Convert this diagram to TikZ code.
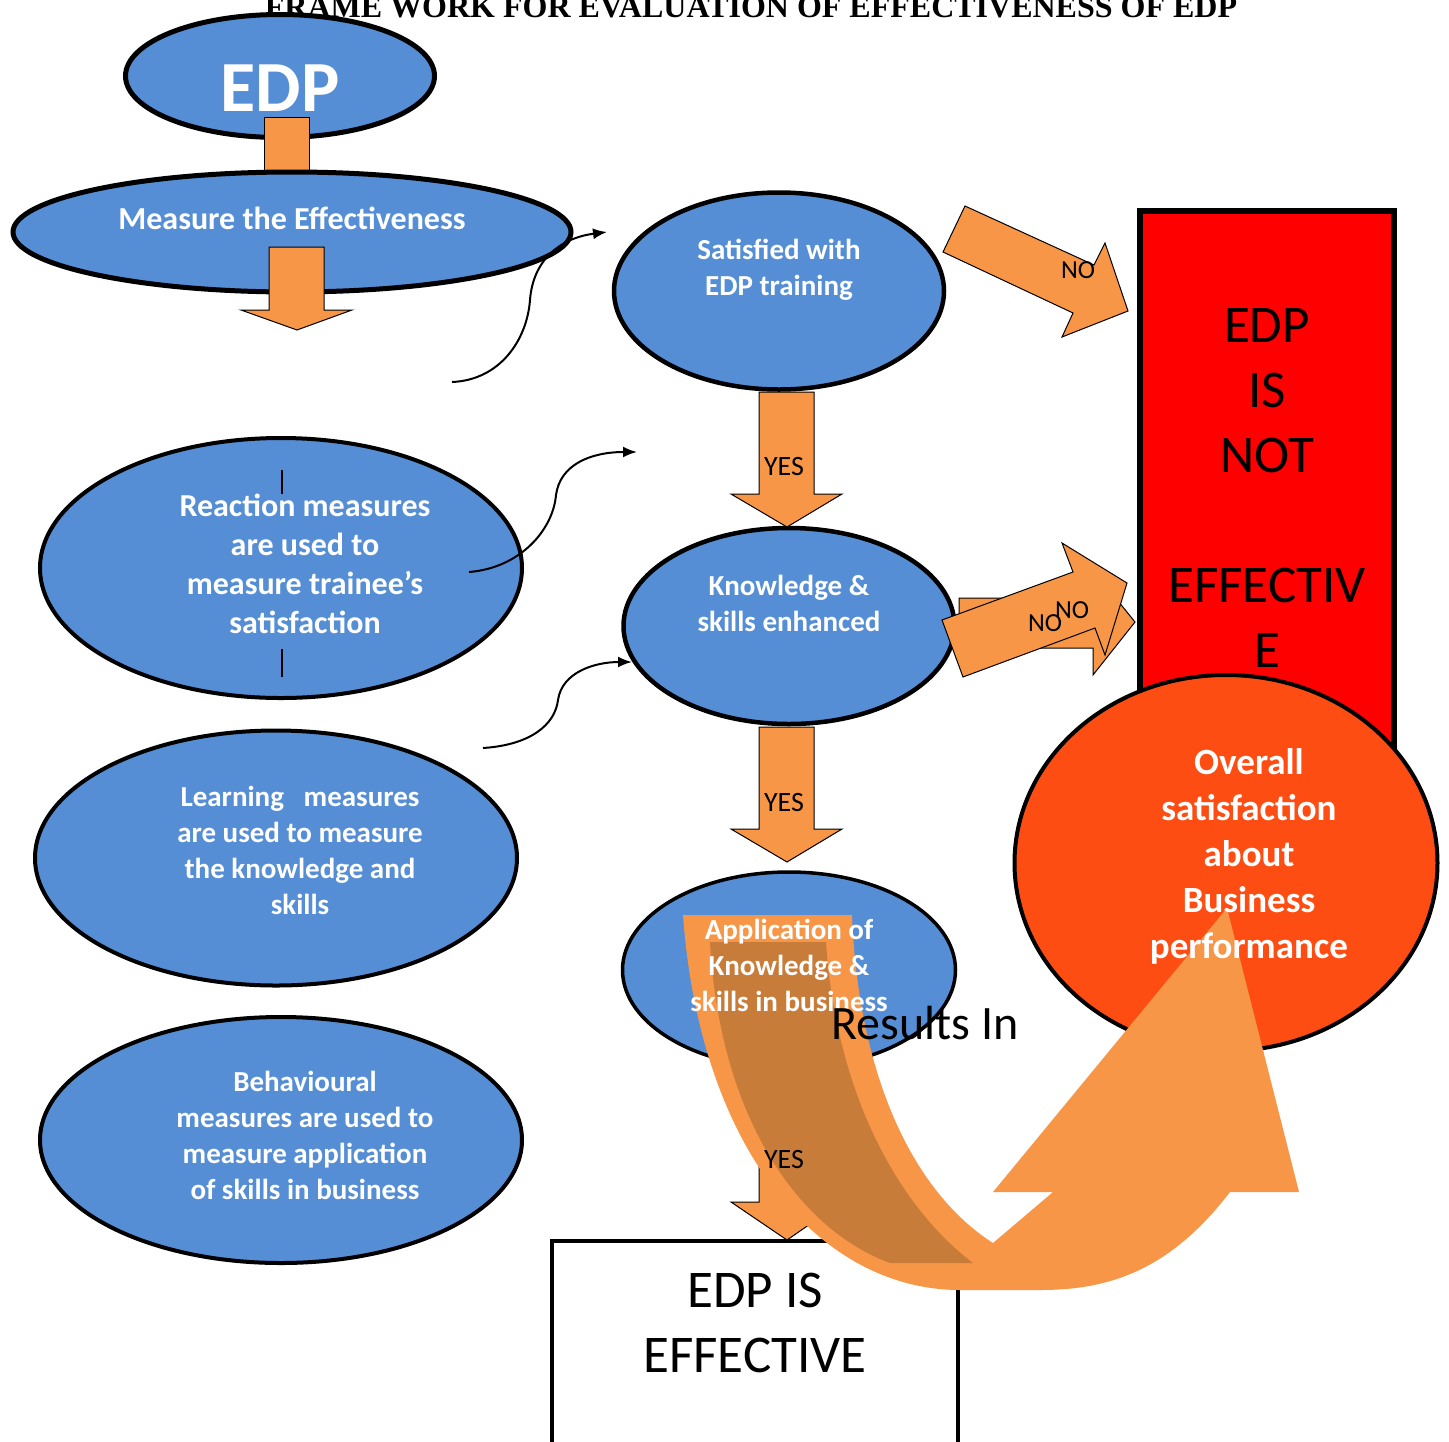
\documentclass[tikz,border=0pt]{standalone}
\usepackage{fontspec}
\setmainfont{Carlito}
\newfontfamily\titlefont{Liberation Serif}
\usetikzlibrary{shapes.geometric,arrows.meta}
\definecolor{eblue}{RGB}{85,142,213}
\definecolor{eorange}{RGB}{247,150,70}
\definecolor{edark}{RGB}{200,124,58}
\definecolor{ered}{RGB}{255,0,0}
\definecolor{ecircle}{RGB}{254,77,19}
\begin{document}
\begin{tikzpicture}[x=1pt,y=-1pt,
  oval/.style={ellipse, draw=black, fill=eblue, inner sep=0pt},
  barrow/.style={fill=eorange, draw=black, line width=1pt, line join=miter},
  wtext/.style={text=white, align=center, inner sep=0pt, font=\bfseries},
  btext/.style={text=black, align=center, inner sep=0pt},
  curvy/.style={line width=2pt, -{Latex[length=14pt,width=11pt]}},
  fs/.style 2 args={font=\fontsize{#1}{#2}\selectfont},
  bfs/.style 2 args={font=\bfseries\fontsize{#1}{#2}\selectfont},
]
\useasboundingbox (0,0) rectangle (1449,1441);
\begin{scope}
\clip (0,0) rectangle (1449,1441);

% title
\node[anchor=base, inner sep=0pt, font=\titlefont\bfseries\fontsize{32}{32}\selectfont] (title) at (751,17) {FRAME WORK FOR EVALUATION OF EFFECTIVENESS OF EDP};

% EDP ellipse
\node[oval, line width=5pt, minimum width=309pt, minimum height=123pt] (edp) at (280,76) {};
\path[barrow] (264,117) rectangle (309,176);
\node[oval, line width=5pt, minimum width=558pt, minimum height=120pt] (measure) at (292,232) {};
\path[barrow] (269,247) -- (324,247) -- (324,310) -- (352,310) -- (297,330) -- (241,310) -- (269,310) -- cycle;

% left ellipses
\node[oval, line width=4pt, minimum width=482pt, minimum height=260pt] (react) at (281,568) {};
\node[oval, line width=4pt, minimum width=482pt, minimum height=255pt] (learn) at (276,858) {};
\node[oval, line width=4pt, minimum width=482pt, minimum height=246pt] (behav) at (281,1140) {};
\coordinate (v1a) at (282,470); \coordinate (v1b) at (282,494);
\coordinate (v2a) at (282,649); \coordinate (v2b) at (282,677);
\draw[line width=2pt] (v1a) -- (v1b);
\draw[line width=2pt] (v2a) -- (v2b);

% middle ellipses
\node[oval, line width=4.5pt, minimum width=330pt, minimum height=197pt] (sat) at (779,291) {};
\node[oval, line width=4.5pt, minimum width=331pt, minimum height=196pt] (know) at (789,626) {};
\node[oval, line width=3.5pt, minimum width=333pt, minimum height=196pt] (app) at (789,970) {};

% curved connectors
\coordinate (c1s) at (452,382); \coordinate (c1e) at (607,232);
\coordinate (c2s) at (469,572); \coordinate (c2e) at (637,452);
\coordinate (c3s) at (483,748); \coordinate (c3e) at (632,662);
\draw[curvy] (c1s) .. controls (500,380) and (527,340) .. (530,300) .. controls (533,260) and (560,238) .. (c1e);
\draw[curvy] (c2s) .. controls (520,568) and (553,530) .. (556,495) .. controls (560,465) and (590,452) .. (c2e);
\draw[curvy] (c3s) .. controls (530,745) and (555,725) .. (558,700) .. controls (562,672) and (595,662) .. (c3e);

% YES arrows
\path[barrow] (759,392) -- (814,392) -- (814,494) -- (842,494) -- (787,527) -- (731,494) -- (759,494) -- cycle;
\path[barrow] (759,727) -- (814,727) -- (814,829) -- (842,829) -- (787,862) -- (731,829) -- (759,829) -- cycle;
\path[barrow] (759,1068) -- (814,1068) -- (814,1202) -- (842,1202) -- (787,1240) -- (731,1202) -- (759,1202) -- cycle;

% red box
\node[rectangle, draw=black, fill=ered, line width=6pt, minimum width=254pt, minimum height=580pt, inner sep=0pt] (redbox) at (1267,501) {};

% NO arrows
\path[barrow] (965,206) -- (1094,265) -- (1105,243) -- (1128,311) -- (1062,337) -- (1073,313) -- (943,252) -- cycle;
\path[barrow] (959,598) -- (1093,598) -- (1093,570) -- (1135,622) -- (1093,675) -- (1093,648) -- (959,648) -- cycle;
\path[barrow] (942,620) -- (1073,572) -- (1062,543) -- (1127,583) -- (1105,655) -- (1095,628) -- (963,677) -- cycle;

% overall circle
\node[ellipse, draw=black, fill=ecircle, line width=4pt, minimum width=423pt, minimum height=376pt, inner sep=0pt] (overall) at (1226,863) {};

% EDP IS EFFECTIVE box
\node[rectangle, draw=black, fill=white, line width=4pt, minimum width=406pt, minimum height=210pt, inner sep=0pt] (effbox) at (755,1346) {};

% big curved arrow
\fill[eorange] (683,915) -- (852,915) .. controls (858,1070) and (910,1190) .. (993,1243) -- (1053,1192) -- (993,1192) -- (1227,908) -- (1299,1192) -- (1230,1192) .. controls (1170,1270) and (1110,1290) .. (1040,1290) -- (960,1290) .. controls (820,1290) and (700,1150) .. (683,915) -- cycle;
\fill[edark] (710,942) -- (826,942) .. controls (835,1080) and (890,1200) .. (973,1263) -- (890,1263) .. controls (800,1230) and (720,1120) .. (710,942) -- cycle;

% texts
\node[wtext, bfs={72}{72}] (edpT) at (280,88) {EDP};
\node[wtext, bfs={32}{36}] (measureT) at (292,218) {Measure the Effectiveness};
\node[wtext, bfs={29}{36}] (satT) at (779,270) {Satisfied with\\EDP training};
\node[wtext, bfs={32}{39}] (reactT) at (305,564) {Reaction measures\\are used to\\measure trainee’s\\satisfaction};
\node[wtext, bfs={29}{36}] (learnT) at (300,850) {Learning~~~measures\\are used to measure\\the knowledge and\\skills};
\node[wtext, bfs={29}{36}] (behavT) at (305,1135) {Behavioural\\measures are used to\\measure application\\of skills in business};
\node[wtext, bfs={29}{36}] (knowT) at (789,603) {Knowledge \&\\skills enhanced};
\node[wtext, bfs={29}{36}] (appT) at (789,965) {Application of\\Knowledge \&\\skills in business};
\node[wtext, bfs={37}{46}] (overallT) at (1249,856) {Overall\\satisfaction\\about\\Business\\performance};
\node[btext, fs={53}{65}] (redT) at (1267,488) {EDP\\IS\\NOT\\\mbox{}\\EFFECTIV\\E};
\node[btext, fs={53}{65}] (effT) at (755,1323) {EDP IS\\EFFECTIVE};
\node[btext, fs={48}{48}] (results) at (925,1023) {Results In};
\node[btext, fs={26}{26}] (no1) at (1078,270) {NO};
\node[btext, fs={26}{26}] (no2) at (1045,623) {NO};
\node[btext, fs={26}{26}] (no3) at (1072,610) {NO};
\node[btext, fs={28}{28}] (yes1) at (784,467) {YES};
\node[btext, fs={28}{28}] (yes2) at (784,802) {YES};
\node[btext, fs={28}{28}] (yes3) at (784,1159) {YES};
\end{scope}
\end{tikzpicture}
\end{document}
